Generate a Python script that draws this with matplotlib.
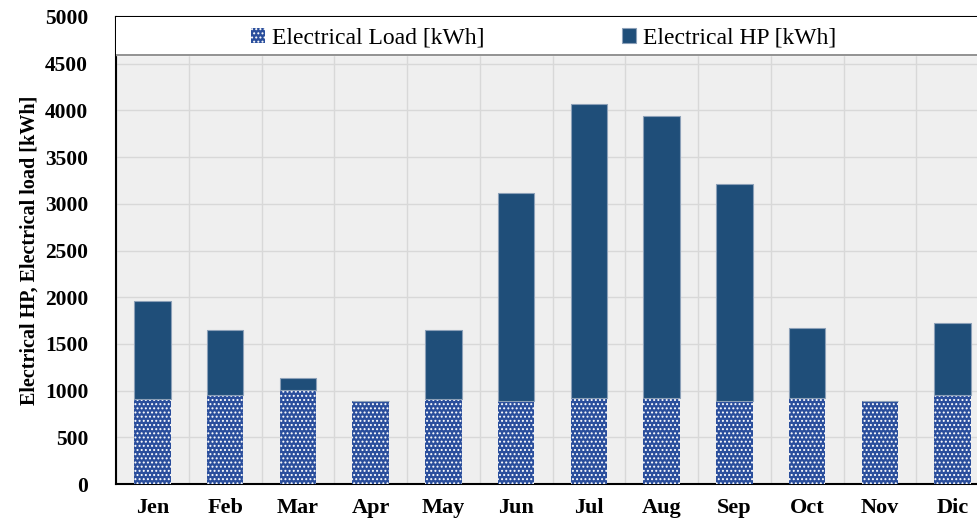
import matplotlib
matplotlib.use("Agg")
import matplotlib.pyplot as plt
import numpy as np

months = ["Jen", "Feb", "Mar", "Apr", "May", "Jun", "Jul", "Aug", "Sep", "Oct", "Nov", "Dic"]
load_kwh = [910, 950, 1010, 885, 910, 885, 917, 917, 892, 917, 885, 950]
hp_kwh = [1050, 695, 125, 0, 742, 2227, 3155, 3023, 2320, 750, 0, 770]

plt.rcParams["font.family"] = ["Liberation Serif", "DejaVu Serif"]
plt.rcParams["hatch.linewidth"] = 0.9

LOAD_BLUE = "#2a4e9c"
HP_BLUE = "#1f4e79"

fig = plt.figure(figsize=(9.77, 5.19), dpi=100)
ax = fig.add_axes([116 / 977, 35 / 519, (989 - 116) / 977, (484 - 17) / 519])
ax.set_facecolor("#efefef")

x = np.arange(len(months))
load = np.array(load_kwh)
hp = np.array(hp_kwh)

ax.bar(x, load, width=0.5, color=LOAD_BLUE, edgecolor="white", linewidth=0,
       hatch="....", label="Electrical Load [kWh]", zorder=3)
ax.bar(x, hp, bottom=load, width=0.5, color=HP_BLUE, edgecolor="#8ca0b8",
       linewidth=0.8, label="Electrical HP [kWh]", zorder=3)

ax.set_xlim(-0.5, len(months) - 0.5)
ax.set_ylim(0, 5000)
ax.set_yticks(np.arange(0, 5001, 500))
ax.set_xticks(x)
ax.set_xticklabels(months)
ax.set_xticks(np.arange(-0.5, len(months), 1), minor=True)

ax.grid(axis="y", which="major", color="#d8d8d8", linewidth=1, zorder=0)
ax.grid(axis="x", which="minor", color="#d8d8d8", linewidth=1, zorder=0)
ax.set_axisbelow(True)

ax.tick_params(axis="both", which="both", length=0)
ax.tick_params(axis="y", pad=20, labelsize=15.5)
ax.tick_params(axis="x", pad=10, labelsize=16)
for lbl in ax.get_xticklabels() + ax.get_yticklabels():
    lbl.set_fontweight("bold")

ax.set_ylabel("Electrical HP, Electrical load [kWh]", fontsize=14.5, fontweight="bold", labelpad=4)

for side in ["left", "top", "bottom"]:
    ax.spines[side].set_color("black")
    ax.spines[side].set_linewidth(1.5)
ax.spines["right"].set_visible(False)

# white legend band across the top of the plot area
ax.axhspan(4590, 5000, color="white", zorder=4)
ax.axhline(4590, color="#7f7f7f", linewidth=1.2, zorder=5)

leg = ax.legend(loc="center", bbox_to_anchor=(0.49, 4770 / 5000), ncol=2,
                frameon=False, fontsize=17, handlelength=0.6, handleheight=0.6,
                handletextpad=0.3, columnspacing=5.8)
leg.set_zorder(6)

fig.savefig("out.png", dpi=100)
